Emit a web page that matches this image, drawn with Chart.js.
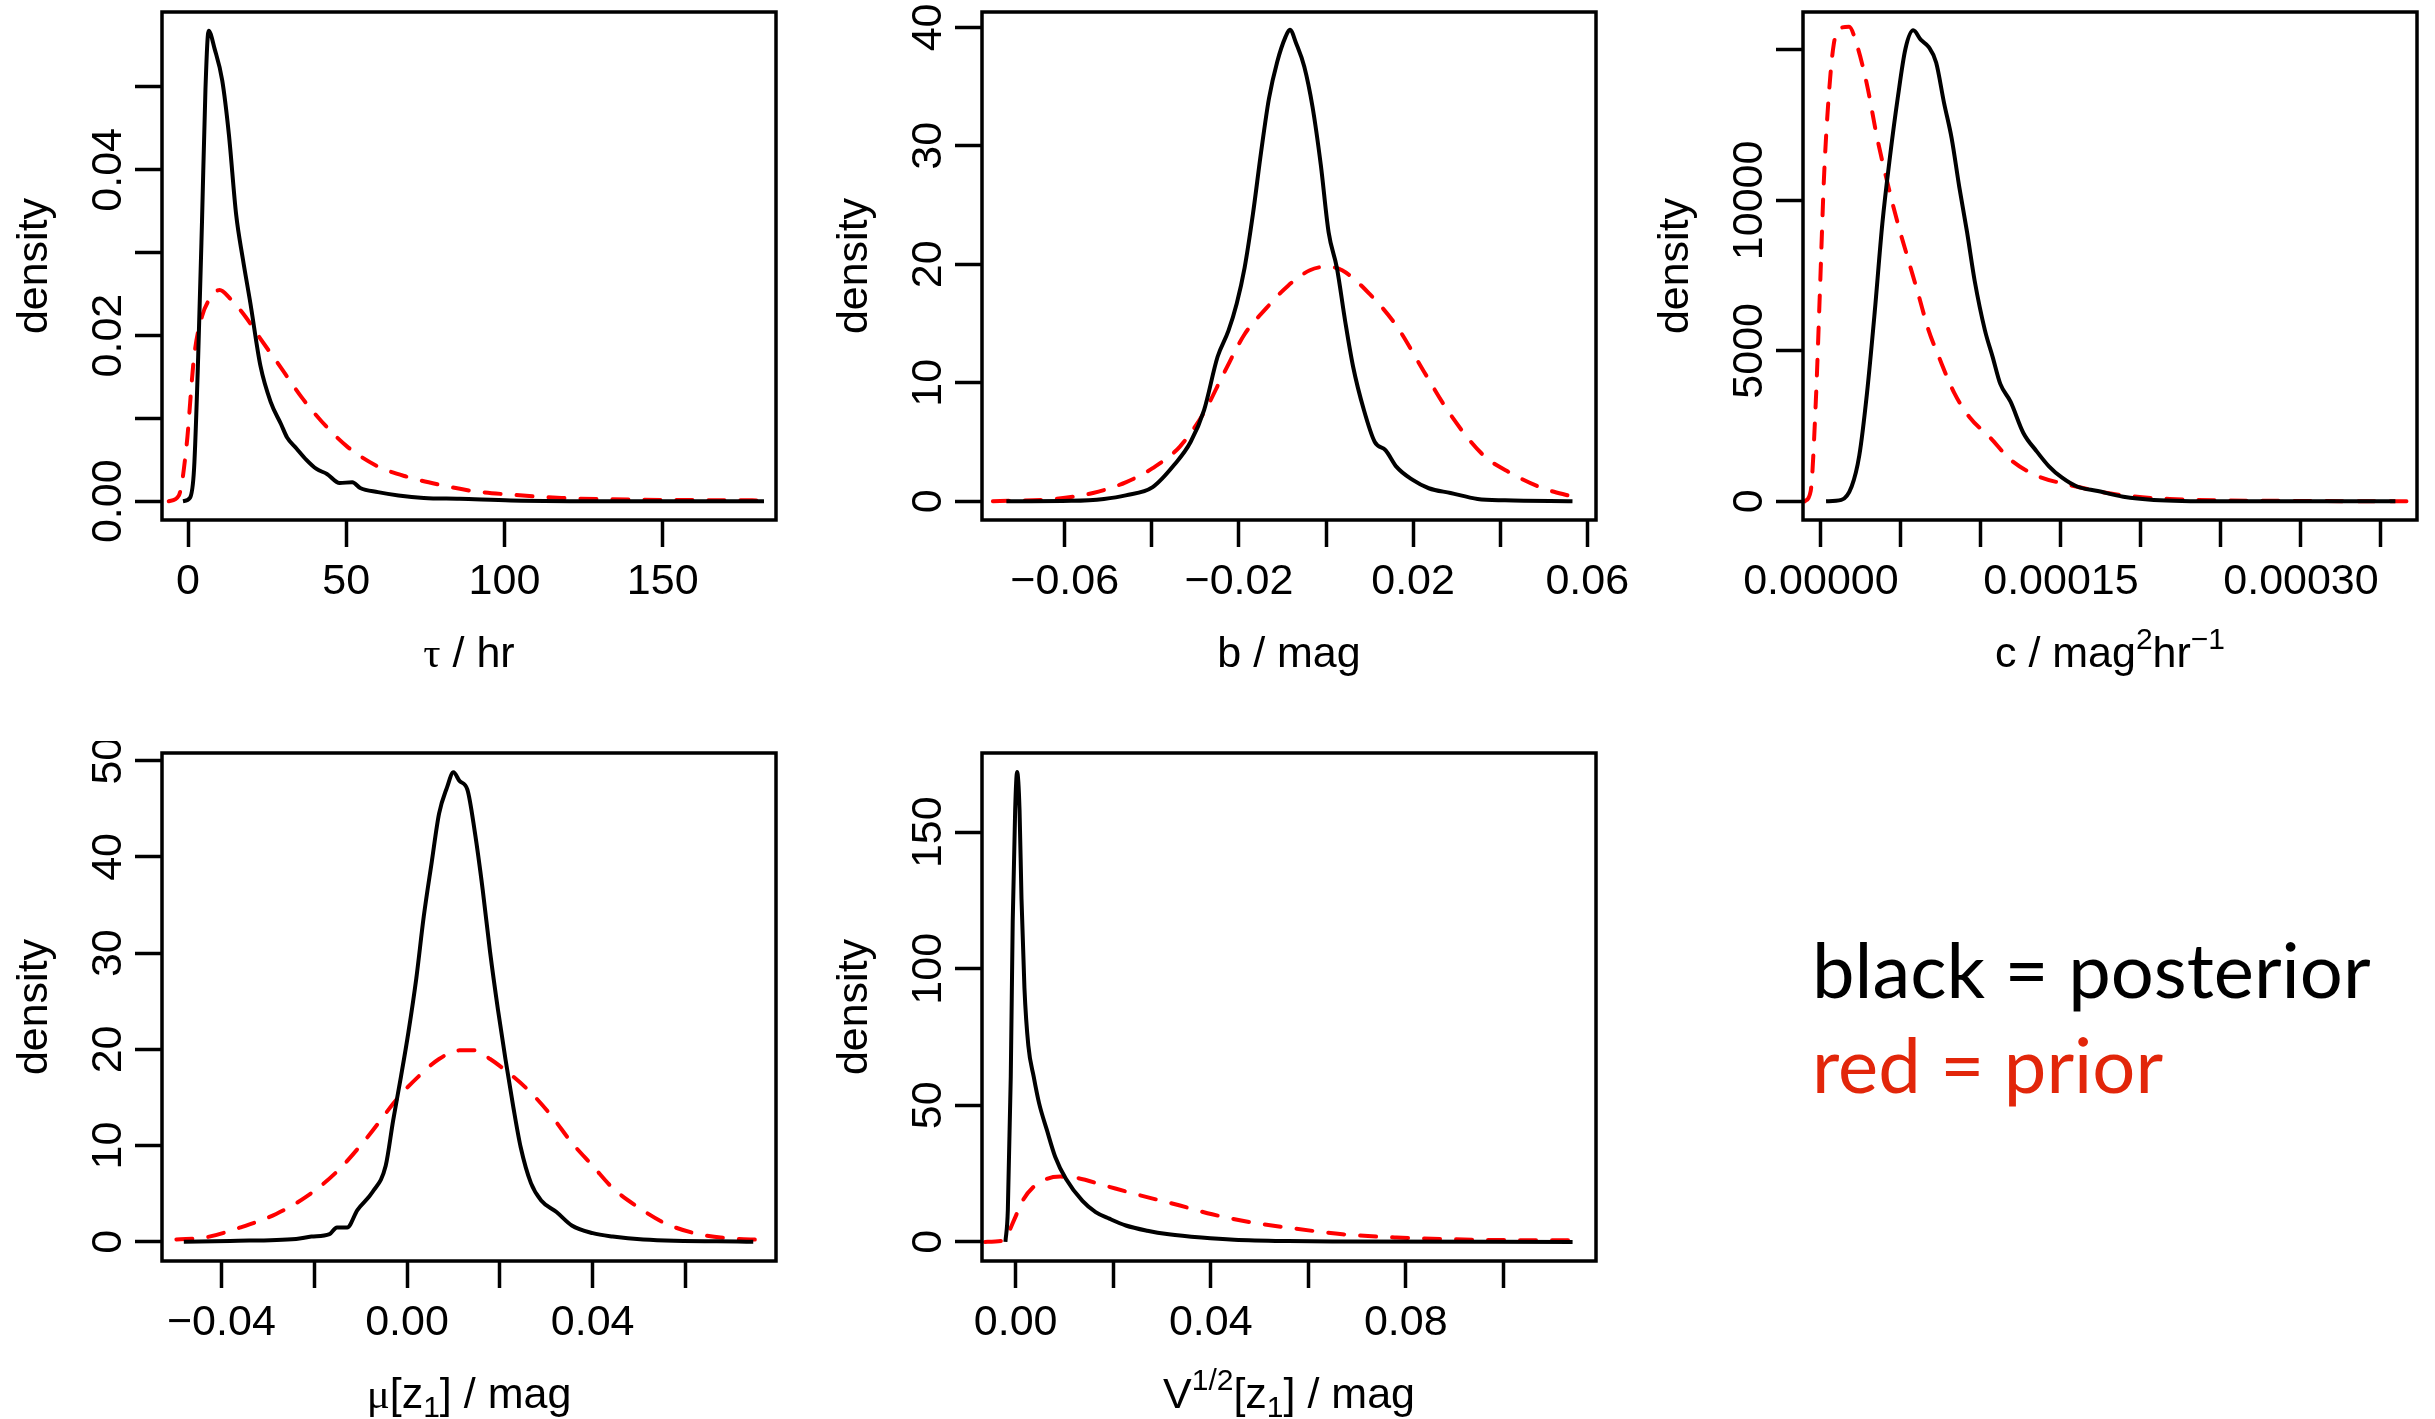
<!DOCTYPE html>
<html>
<head>
<meta charset="utf-8">
<script src="https://cdn.jsdelivr.net/npm/chart.js@4.4.0/dist/chart.umd.min.js"></script>
<style>
  html, body { margin: 0; padding: 0; background: #fff; overflow: hidden; }
  #page { position: relative; width: 2435px; height: 1419px; }
  canvas { position: absolute; }
  .note { position: absolute; left: 1812px; font-family: Lato, "Open Sans", sans-serif; font-size: 76px; line-height: 1; white-space: nowrap; }
</style>
</head>
<body>
<div id="page">
  <canvas id="tauChart" width="836" height="700" style="left:0px;top:0px"></canvas>
  <canvas id="bChart" width="836" height="700" style="left:820px;top:0px"></canvas>
  <canvas id="cChart" width="794" height="700" style="left:1641px;top:0px"></canvas>
  <canvas id="muChart" width="836" height="700" style="left:0px;top:741px"></canvas>
  <canvas id="vChart" width="836" height="700" style="left:820px;top:741px"></canvas>
  <div class="note" style="top:931px;color:#000">black = posterior</div>
  <div class="note" style="top:1026px;color:#e2260a">red = prior</div>
</div>
<script>
// tau / hr
var tauPostX = [-1.6, 0.6, 1.9, 3.2, 4.4, 5.5, 6.5, 8.4, 10.8, 12.9, 15.2, 17.3, 19.7, 22.9, 26.1, 29.4, 31.3, 34.2, 37.4, 40.6, 43.9, 47.9, 51.9, 54.4, 60, 66.5, 74.5, 85.8, 102, 134, 182];
var tauPostY = [0, 0.0004, 0.0039, 0.0174, 0.0336, 0.0497, 0.0568, 0.0546, 0.0508, 0.0443, 0.0346, 0.0293, 0.0239, 0.0163, 0.0120, 0.0093, 0.0077, 0.0064, 0.0050, 0.0039, 0.0033, 0.0022, 0.0023, 0.0016, 0.0011, 0.0007, 0.0004, 0.0003, 0.0001, 0, 0];
var tauPriorX = [-6.1, -2.9, -0.5, 1.9, 4.4, 6.8, 10.0, 13.2, 18.1, 22.9, 29.4, 35.8, 42.3, 50.3, 60, 69.7, 79.4, 90.6, 102, 118, 142, 183];
var tauPriorY = [0, 0.0007, 0.0066, 0.0174, 0.0223, 0.0244, 0.0255, 0.0245, 0.0223, 0.0196, 0.0161, 0.0126, 0.0096, 0.0066, 0.0042, 0.0029, 0.0020, 0.0012, 0.0008, 0.0004, 0.0002, 0.0001];
var tauXTicks = [0, 50, 100, 150];
var tauXLabels = ['0', '50', '100', '150'];
var tauYTicks = [0, 0.01, 0.02, 0.03, 0.04, 0.05];
var tauYLabels = ['0.00', '', '0.02', '', '0.04', ''];

// b / mag
var bPostX = [-0.0734, -0.0585, -0.051, -0.046, -0.0398, -0.0348, -0.0311, -0.028, -0.0249, -0.0224, -0.0205, -0.0187, -0.0168, -0.0149, -0.0131, -0.0112, -0.0093, -0.0083, -0.0068, -0.0050, -0.0031, -0.0012, 0.0006, 0.0025, 0.0044, 0.0062, 0.0087, 0.0112, 0.0137, 0.0162, 0.0199, 0.0236, 0.0286, 0.0348, 0.0411, 0.0566];
var bPostY = [0, 0.04, 0.2, 0.5, 1.2, 3.1, 5.0, 7.7, 12.2, 14.4, 16.7, 19.7, 24.2, 29.5, 34.0, 37.1, 39.2, 39.8, 38.6, 36.7, 33.3, 28.4, 22.7, 19.7, 15.2, 11.4, 7.7, 5.0, 4.3, 2.9, 1.8, 1.1, 0.7, 0.2, 0.08, 0];
var bPriorX = [-0.0765, -0.0622, -0.0535, -0.046, -0.0398, -0.0336, -0.028, -0.0236, -0.0187, -0.0137, -0.0087, -0.0037, 0, 0.0037, 0.01, 0.0162, 0.0224, 0.0286, 0.0361, 0.0423, 0.0498, 0.0566];
var bPriorY = [0, 0.2, 0.7, 1.6, 2.8, 4.6, 7.5, 10.7, 14.1, 16.3, 18.2, 19.5, 19.8, 19.5, 17.5, 14.8, 11.0, 7.3, 3.9, 2.4, 1.1, 0.4];
var bXTicks = [-0.06, -0.04, -0.02, 0, 0.02, 0.04, 0.06];
var bXLabels = ['\u22120.06', '', '\u22120.02', '', '0.02', '', '0.06'];
var bYTicks = [0, 10, 20, 30, 40];
var bYLabels = ['0', '10', '20', '30', '40'];

// c / mag^2 hr^-1
var cPostX = [3.2e-6, 1.28e-5, 1.92e-5, 2.4e-5, 2.88e-5, 3.36e-5, 3.84e-5, 4.32e-5, 4.8e-5, 5.28e-5, 5.77e-5, 6.25e-5, 6.73e-5, 7.2e-5, 7.69e-5, 8.17e-5, 8.65e-5, 9.13e-5, 9.61e-5, 1.025e-4, 1.073e-4, 1.121e-4, 1.185e-4, 1.265e-4, 1.345e-4, 1.425e-4, 1.505e-4, 1.60e-4, 1.73e-4, 1.89e-4, 2.08e-4, 2.5e-4, 3.59e-4];
var cPostY = [0, 45, 490, 1530, 3600, 6280, 9240, 11470, 13400, 15030, 15650, 15330, 15100, 14580, 13250, 12060, 10430, 8950, 7320, 5680, 4800, 3900, 3310, 2270, 1680, 1160, 790, 490, 340, 150, 45, 0, 0];
var cPriorX = [-1.0e-5, -6.4e-6, -3.2e-6, -6e-7, 1.9e-6, 4.8e-6, 8.0e-6, 1.28e-5, 1.76e-5, 2.24e-5, 2.88e-5, 3.52e-5, 4.16e-5, 4.8e-5, 5.44e-5, 6.09e-5, 6.73e-5, 7.37e-5, 8.33e-5, 9.29e-5, 1.057e-4, 1.185e-4, 1.345e-4, 1.537e-4, 1.858e-4, 2.18e-4, 2.82e-4, 3.73e-4];
var cPriorY = [0, 340, 3310, 7020, 10730, 13400, 15180, 15740, 15770, 15180, 13840, 12060, 10580, 9240, 8060, 6870, 5680, 4800, 3600, 2790, 2120, 1380, 860, 560, 220, 75, 15, 0];
var cXTicks = [0, 5e-5, 1e-4, 1.5e-4, 2e-4, 2.5e-4, 3e-4, 3.5e-4];
var cXLabels = ['0.00000', '', '', '0.00015', '', '', '0.00030', ''];
var cYTicks = [0, 5000, 10000, 15000];
var cYLabels = ['0', '5000', '10000', ''];

// mu[z1] / mag
var muPostX = [-0.0481, -0.0381, -0.0239, -0.0206, -0.0167, -0.0151, -0.0129, -0.0107, -0.0074, -0.0046, -0.003, -0.0013, 0.0003, 0.002, 0.0036, 0.0053, 0.0069, 0.0086, 0.01, 0.0113, 0.013, 0.0146, 0.0163, 0.0179, 0.0196, 0.0212, 0.0229, 0.0245, 0.0267, 0.0289, 0.0322, 0.0355, 0.04, 0.0443, 0.0509, 0.0746];
var muPostY = [0, 0.1, 0.3, 0.55, 0.8, 1.5, 1.5, 3.3, 5.2, 7.9, 12.6, 17.2, 21.8, 27.4, 33.8, 39.4, 44.5, 47.2, 48.8, 47.9, 47.0, 42.6, 36.6, 30.1, 24.1, 19.0, 14.0, 9.8, 6.1, 4.3, 3.1, 1.7, 0.9, 0.55, 0.25, 0];
var muPriorX = [-0.0497, -0.0436, -0.0359, -0.0282, -0.0217, -0.0151, -0.0085, -0.0019, 0.0025, 0.0069, 0.0113, 0.0146, 0.0179, 0.0223, 0.0267, 0.0311, 0.0355, 0.04, 0.0443, 0.0498, 0.0553, 0.0619, 0.0685, 0.0768];
var muPriorY = [0.25, 0.45, 1.5, 2.9, 4.7, 7.3, 10.9, 15.0, 17.2, 19.0, 19.9, 19.9, 19.0, 17.4, 15.5, 13.1, 10.3, 7.9, 5.6, 3.6, 2.0, 0.9, 0.4, 0.2];
var muXTicks = [-0.04, -0.02, 0, 0.02, 0.04, 0.06];
var muXLabels = ['\u22120.04', '', '0.00', '', '0.04', ''];
var muYTicks = [0, 10, 20, 30, 40, 50];
var muYLabels = ['0', '10', '20', '30', '40', '50'];

// V^(1/2)[z1] / mag
var vPostX = [-0.0021, -0.0016, -0.001, -0.0006, -0.0001, 0.0003, 0.0008, 0.0012, 0.0018, 0.0026, 0.0037, 0.0048, 0.0064, 0.0081, 0.0103, 0.0137, 0.0164, 0.0192, 0.0226, 0.027, 0.0314, 0.0381, 0.0448, 0.0559, 0.067, 0.1142];
var vPostY = [0, 11.7, 60.6, 117.5, 158.2, 172, 158, 125.6, 93, 71.9, 60.5, 50.8, 41.0, 31.2, 23.1, 15.0, 10.9, 8.5, 6.0, 4.1, 2.8, 1.6, 0.8, 0.3, 0.15, 0];
var vPriorX = [-0.0063, -0.003, -0.0019, -0.0002, 0.0014, 0.0037, 0.0064, 0.0092, 0.0126, 0.0181, 0.0248, 0.0337, 0.0403, 0.0481, 0.0559, 0.067, 0.0781, 0.0892, 0.1003, 0.1153];
var vPriorY = [0, 0.3, 2.0, 8.5, 15.0, 20.2, 23.1, 23.9, 23.4, 20.7, 17.4, 13.3, 10.1, 7.2, 5.2, 2.8, 1.6, 1.0, 0.65, 0.6];
var vXTicks = [0, 0.02, 0.04, 0.06, 0.08, 0.10];
var vXLabels = ['0.00', '', '0.04', '', '0.08', ''];
var vYTicks = [0, 50, 100, 150];
var vYLabels = ['0', '50', '100', '150'];

// axis titles, split into runs so sub/superscripts can be drawn
var tauTitle = [{t: '\u03c4', serif: true}, {t: ' / hr'}];
var bTitle = [{t: 'b / mag'}];
var cTitle = [{t: 'c / mag'}, {t: '2', sup: true}, {t: 'hr'}, {t: '\u22121', sup: true}];
var muTitle = [{t: '\u03bc', serif: true}, {t: '[z'}, {t: '1', sub: true}, {t: '] / mag'}];
var vTitle = [{t: 'V'}, {t: '1/2', sup: true}, {t: '[z'}, {t: '1', sub: true}, {t: '] / mag'}];

var ML = 162, MT = 12, MB = 180;
var FONT = '"Liberation Sans", Arial, sans-serif';
var FS = 43;

var panels = {
  tauChart: {mr: 60, xMin: -8.23, xMax: 185.8, yMin: -0.00226, yMax: 0.05905,
    postX: tauPostX, postY: tauPostY, priorX: tauPriorX, priorY: tauPriorY,
    xTicks: tauXTicks, xLabels: tauXLabels, yTicks: tauYTicks, yLabels: tauYLabels, title: tauTitle},
  bChart: {mr: 60, xMin: -0.0790, xMax: 0.0620, yMin: -1.58, yMax: 41.3,
    postX: bPostX, postY: bPostY, priorX: bPriorX, priorY: bPriorY,
    xTicks: bXTicks, xLabels: bXLabels, yTicks: bYTicks, yLabels: bYLabels, title: bTitle},
  cChart: {mr: 18, xMin: -1.12e-5, xMax: 3.725e-4, yMin: -623, yMax: 16260,
    postX: cPostX, postY: cPostY, priorX: cPriorX, priorY: cPriorY,
    xTicks: cXTicks, xLabels: cXLabels, yTicks: cYTicks, yLabels: cYLabels, title: cTitle},
  muChart: {mr: 60, xMin: -0.0528, xMax: 0.0795, yMin: -1.99, yMax: 50.8,
    postX: muPostX, postY: muPostY, priorX: muPriorX, priorY: muPriorY,
    xTicks: muXTicks, xLabels: muXLabels, yTicks: muYTicks, yLabels: muYLabels, title: muTitle},
  vChart: {mr: 60, xMin: -0.0069, xMax: 0.119, yMin: -7.0, yMax: 179,
    postX: vPostX, postY: vPostY, priorX: vPriorX, priorY: vPriorY,
    xTicks: vXTicks, xLabels: vXLabels, yTicks: vYTicks, yLabels: vYLabels, title: vTitle}
};

function toPoints(xs, ys) {
  return xs.map(function(x, i) { return {x: x, y: ys[i]}; });
}

// text made of runs (normal / superscript / subscript), centred on cx
function drawRuns(ctx, runs, cx, baseY) {
  function fontFor(r) {
    var size = (r.sup || r.sub) ? 30 : FS;
    return size + 'px ' + (r.serif ? '"Liberation Serif", serif' : FONT);
  }
  var total = 0;
  runs.forEach(function(r) { ctx.font = fontFor(r); total += ctx.measureText(r.t).width; });
  var x = cx - total / 2;
  ctx.textAlign = 'left';
  runs.forEach(function(r) {
    ctx.font = fontFor(r);
    var dy = r.sup ? -18 : (r.sub ? 9 : 0);
    ctx.fillText(r.t, x, baseY + dy);
    x += ctx.measureText(r.t).width;
  });
}

// box round the plot region, rotated y labels and axis titles
var framePlugin = {
  id: 'frame',
  afterDraw: function(chart) {
    var p = panels[chart.canvas.id];
    var ctx = chart.ctx, a = chart.chartArea, ys = chart.scales.y;
    ctx.save();
    ctx.strokeStyle = '#000';
    ctx.lineWidth = 3.5;
    ctx.strokeRect(a.left, a.top, a.right - a.left, a.bottom - a.top);

    ctx.fillStyle = '#000';
    ctx.font = FS + 'px ' + FONT;
    ctx.textAlign = 'center';
    ctx.textBaseline = 'alphabetic';
    p.yTicks.forEach(function(v, i) {
      if (!p.yLabels[i]) return;
      ctx.save();
      ctx.translate(a.left - 41, ys.getPixelForValue(v));
      ctx.rotate(-Math.PI / 2);
      ctx.fillText(p.yLabels[i], 0, 0);
      ctx.restore();
    });

    ctx.save();
    ctx.translate(a.left - 115, (a.top + a.bottom) / 2);
    ctx.rotate(-Math.PI / 2);
    ctx.fillText('density', 0, 0);
    ctx.restore();

    drawRuns(ctx, p.title, (a.left + a.right) / 2, a.bottom + 147);
    ctx.restore();
  }
};

function makePanel(id) {
  var p = panels[id];
  return new Chart(document.getElementById(id), {
    type: 'line',
    data: {
      datasets: [
        {label: 'posterior', data: toPoints(p.postX, p.postY), borderColor: '#000000', borderWidth: 4},
        {label: 'prior', data: toPoints(p.priorX, p.priorY), borderColor: '#ff0000', borderWidth: 4,
          borderDash: [16, 16], borderCapStyle: 'round'}
      ]
    },
    options: {
      responsive: false,
      animation: false,
      devicePixelRatio: 1,
      layout: {padding: {top: MT, right: p.mr, left: 0, bottom: 0}},
      elements: {
        point: {radius: 0},
        line: {cubicInterpolationMode: 'monotone', fill: false}
      },
      plugins: {legend: {display: false}, tooltip: {enabled: false}},
      scales: {
        x: {
          type: 'linear', min: p.xMin, max: p.xMax,
          afterBuildTicks: function(s) { s.ticks = p.xTicks.map(function(v) { return {value: v}; }); },
          afterFit: function(s) { s.height = MB; },
          border: {display: false},
          grid: {drawOnChartArea: false, drawTicks: true, tickLength: 27, tickWidth: 3.5, tickColor: '#000'},
          ticks: {autoSkip: false, maxRotation: 0, minRotation: 0, padding: 9, color: '#000',
            font: {family: FONT, size: FS},
            callback: function(v, i) { return p.xLabels[i]; }}
        },
        y: {
          type: 'linear', min: p.yMin, max: p.yMax,
          afterBuildTicks: function(s) { s.ticks = p.yTicks.map(function(v) { return {value: v}; }); },
          afterFit: function(s) { s.width = ML; },
          border: {display: false},
          grid: {drawOnChartArea: false, drawTicks: true, tickLength: 27, tickWidth: 3.5, tickColor: '#000'},
          ticks: {display: false}
        }
      }
    },
    plugins: [framePlugin]
  });
}

['tauChart', 'bChart', 'cChart', 'muChart', 'vChart'].forEach(makePanel);
</script>
</body>
</html>
